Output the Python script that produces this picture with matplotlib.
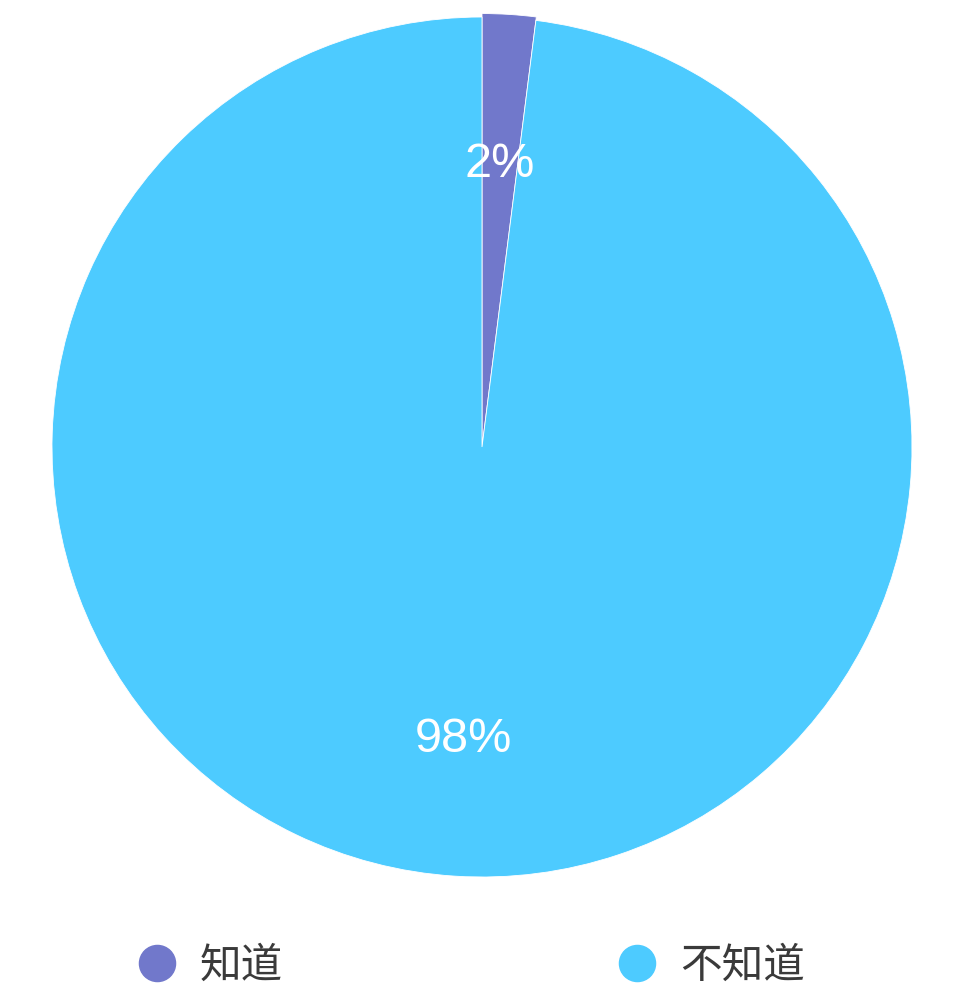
import matplotlib
matplotlib.use("Agg")
import matplotlib.pyplot as plt
from matplotlib.lines import Line2D

labels = ["知道", "不知道"]
values = [2, 98]
colors = ["#7178CB", "#4DCBFF"]

plt.rcParams['font.family'] = ['Noto Sans CJK SC', 'DejaVu Sans']

W, H = 956, 999
fig = plt.figure(figsize=(W / 100, H / 100), dpi=100)
fig.patch.set_facecolor("white")

cx, cy, r = 482, 447, 430
ax = fig.add_axes([(cx - r) / W, (H - cy - r) / H, 2 * r / W, 2 * r / H])
wedges, texts, autotexts = ax.pie(
    values, colors=colors, startangle=90, counterclock=False,
    autopct=lambda p: f"{p:.0f}%", pctdistance=0.67,
    wedgeprops=dict(linewidth=0.6, edgecolor="white"),
    textprops=dict(color="white", fontsize=35, family=["Liberation Sans", "DejaVu Sans"]))
for t in autotexts:
    t.set_va("center_baseline")
wedges[0].set_radius(1.008)
ax.set_xlim(-1, 1)
ax.set_ylim(-1, 1)
ax.set_aspect("equal")
ax.axis("off")

handles = [Line2D([], [], linestyle="none", marker="o", markersize=26,
                  markerfacecolor=c, markeredgecolor=c) for c in colors]
fig.legend(handles, labels, loc="center", bbox_to_anchor=(0.492, (H - 966) / H),
           ncol=2, frameon=False, fontsize=30, handlelength=1.0,
           handletextpad=0.53, columnspacing=8.0, labelcolor="#3a3a3a")

fig.savefig("out.png", dpi=100, facecolor="white")
